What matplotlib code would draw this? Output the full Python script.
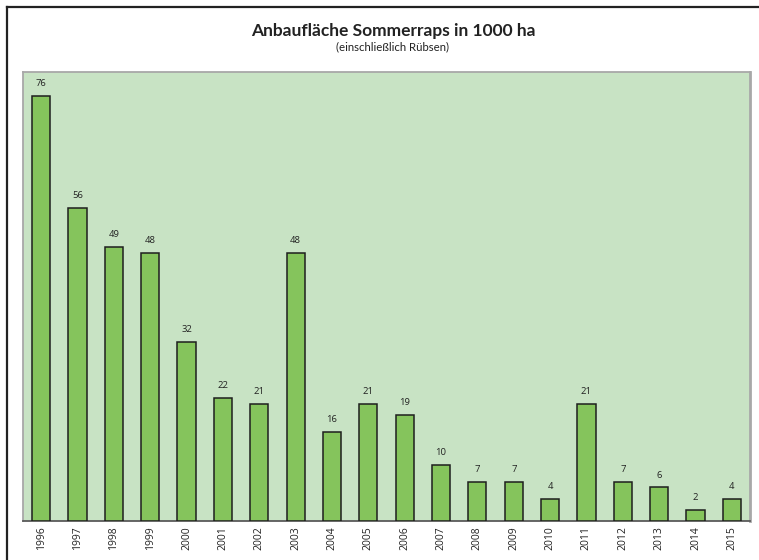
import matplotlib
matplotlib.use("Agg")
import matplotlib.pyplot as plt
from matplotlib.lines import Line2D

years = ["1996", "1997", "1998", "1999", "2000", "2001", "2002", "2003", "2004", "2005",
         "2006", "2007", "2008", "2009", "2010", "2011", "2012", "2013", "2014", "2015"]
values = [76, 56, 49, 48, 32, 22, 21, 48, 16, 21, 19, 10, 7, 7, 4, 21, 7, 6, 2, 4]

W, H = 759, 560
fig = plt.figure(figsize=(W / 100, H / 100), dpi=100)
fig.patch.set_facecolor("white")

# outer frame (top and left)
fig.add_artist(Line2D([6.5 / W, 1.0], [1 - 7 / H, 1 - 7 / H], color="#222222", lw=1.6))
fig.add_artist(Line2D([6.5 / W, 6.5 / W], [1 - 7 / H, 0.0], color="#222222", lw=1.6))

left, right, top, bottom = 23, 750, 72, 521
ax = fig.add_axes([left / W, 1 - bottom / H, (right - left) / W, (bottom - top) / H])
ax.set_facecolor("#C8E3C4")

x = list(range(len(years)))
ax.bar(x, values, width=0.5, color="#85C45C", edgecolor="#1e1e1e", linewidth=1.1, zorder=3)
ax.set_xlim(-0.5, len(years) - 0.5)
ax.set_ylim(0, 80.3)

for xi, v in zip(x, values):
    ax.text(xi, v + 1.4, str(v), ha="center", va="bottom", fontsize=6.8,
            family="Open Sans", color="#222222")

ax.set_xticks(x)
ax.set_xticklabels(years, rotation=90, fontsize=7.5, family="Open Sans", color="#222222")
ax.tick_params(axis="x", length=0, pad=4)
ax.set_yticks([])

for s in ["top", "left", "right"]:
    ax.spines[s].set_color("#a8a8a8")
    ax.spines[s].set_linewidth(1.3)
ax.spines["right"].set_linewidth(2.0)
ax.spines["bottom"].set_color("#5a5a5a")
ax.spines["bottom"].set_linewidth(1.3)

fig.text(393 / W, 1 - 31 / H, "Anbaufläche Sommerraps in 1000 ha", ha="center", va="center",
         fontsize=12.5, fontweight="bold", family="Lato", color="#222222")
fig.text(393 / W, 1 - 47 / H, "(einschließlich Rübsen)", ha="center", va="center",
         fontsize=8.2, family="Lato", color="#222222")

fig.savefig("out.png", dpi=100)
